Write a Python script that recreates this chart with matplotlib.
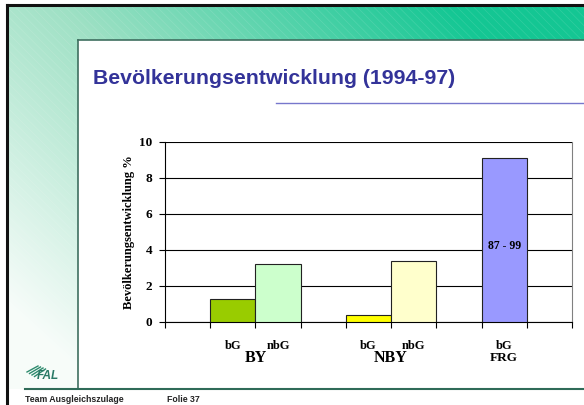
import numpy as np
import matplotlib.pyplot as plt
from matplotlib.patches import Rectangle
from matplotlib.transforms import blended_transform_factory

# chart data
groups = ['BY', 'NBY', 'FRG']
sub_labels = ['bG', 'nbG', 'bG', 'nbG', 'bG']
values = [1.3, 3.2, 0.4, 3.4, 9.1]
slots = [1, 2, 4, 5, 7]          # positions on the 9-slot category axis
group_slots = [1.5, 4.5, 7]
bar_colors = ['#99cc00', '#ccffcc', '#ffff00', '#ffffcc', '#9999ff']
yticks = [0, 2, 4, 6, 8, 10]
bar_note = '87 - 99'

W, H = 584, 405
fig = plt.figure(figsize=(W / 100, H / 100), dpi=100)

# slide decoration in pixel coordinates
bg = fig.add_axes([0, 0, 1, 1])
bg.set_xlim(0, W)
bg.set_ylim(H, 0)
bg.axis('off')

# green gradient (light at bottom-left, teal at top-right)
yy, xx = np.mgrid[0:H, 0:W]
t = np.clip(0.75 * xx / W + 0.55 * (1 - yy / H) - 0.12, 0, 1)
c0 = np.array([0.97, 0.99, 0.98])
c1 = np.array([0.62, 0.88, 0.77])
c2 = np.array([0.08, 0.78, 0.58])
grad = np.where(t[..., None] < 0.5,
                c0 + (c1 - c0) * (t[..., None] / 0.5),
                c1 + (c2 - c1) * ((t[..., None] - 0.5) / 0.5))
bg.imshow(grad, extent=(8, W, 389, 6), aspect='auto', zorder=0)
plt.rcParams['hatch.linewidth'] = 0.5
bg.add_patch(Rectangle((8, 6), W - 8, 383, facecolor='none', edgecolor='white',
                       hatch='\\\\\\\\', lw=0, alpha=0.12, zorder=1))

# white content area
bg.add_patch(Rectangle((78, 40), W - 78, 349, facecolor='white', edgecolor='none', zorder=2))
bg.add_patch(Rectangle((0, 389), W, H - 389, facecolor='white', edgecolor='none', zorder=2))
bg.plot([78, 78], [40, 389], color='#3f6f60', lw=1.2, zorder=3)
bg.plot([78, W], [40, 40], color='#3f6f60', lw=1.2, zorder=3)
bg.plot([25, W], [389, 389], color='#2f6b58', lw=1.5, zorder=3)

# black slide border left/top
bg.plot([7, 7], [5, H], color='#111111', lw=2.2, zorder=4)
bg.plot([7, W], [5, 5], color='#111111', lw=2.2, zorder=4)

# title and rule
bg.text(93, 79, 'Bevölkerungsentwicklung (1994-97)', fontsize=15.3, fontweight='bold',
        family='Liberation Sans', color='#333399', va='center', ha='left', zorder=5)
bg.plot([276, W], [103, 103], color='#7777cc', lw=1.0, zorder=5)

# FAL logo and footer
for k in range(4):
    bg.plot([27 + k * 2.5, 38 + k * 2.5], [372 + k * 1.5, 366 + k * 1.0],
            color='#2e8b6e', lw=1.0, zorder=5)
bg.text(37, 376, 'FAL', fontsize=8.5, fontweight='bold', style='italic',
        family='Liberation Sans', color='#2a7a66', va='center', ha='left', zorder=5)
bg.text(25, 400, 'Team Ausgleichszulage', fontsize=6.3, fontweight='bold',
        family='Liberation Sans', color='#222222', va='center', ha='left', zorder=5)
bg.text(167, 400, 'Folie 37', fontsize=6.3, fontweight='bold',
        family='Liberation Sans', color='#222222', va='center', ha='left', zorder=5)

# bar chart
ax = fig.add_axes([165 / W, 1 - 322 / H, (572 - 165) / W, (322 - 142) / H])
ax.set_facecolor('white')
ax.bar(slots, values, width=1.0, color=bar_colors, edgecolor='#222222', lw=0.8, zorder=3)
ax.set_xlim(-0.5, 8.5)
ax.set_ylim(0, 10)
ax.set_yticks(yticks)
ax.set_yticklabels([str(v) for v in yticks], fontsize=9.5, fontweight='bold', family='Liberation Serif')
ax.yaxis.grid(True, color='black', lw=0.8)
ax.set_axisbelow(True)
ax.tick_params(axis='y', direction='out', length=4, width=0.8, pad=5)

ax.set_xticks(np.arange(-0.5, 9, 1.0), minor=True)
ax.set_xticks(slots)
ax.set_xticklabels(sub_labels, fontsize=9, fontweight='bold', family='Liberation Serif')
ax.tick_params(axis='x', which='major', length=0, pad=13)
ax.tick_params(axis='x', which='minor', direction='out', length=4, width=0.8)

trans = blended_transform_factory(ax.transData, fig.transFigure)
for g, xs in zip(groups, group_slots):
    fs = 9.5 if g == 'FRG' else 11.5
    ax.text(xs, 1 - 358 / H, g, transform=trans, ha='center', va='center',
            fontsize=fs, fontweight='bold', family='Liberation Serif')

ax.text(slots[-1], 4.2, bar_note, ha='center', va='center', fontsize=8.5,
        fontweight='bold', family='Liberation Serif', zorder=4)

ax.set_ylabel('Bevölkerungsentwicklung %', fontsize=9, fontweight='bold',
              family='Liberation Serif', labelpad=3)

ax.spines['top'].set_visible(False)
ax.spines['right'].set_color('#808080')
ax.spines['left'].set_linewidth(0.8)
ax.spines['bottom'].set_linewidth(0.8)

fig.savefig('out.png', dpi=100)
